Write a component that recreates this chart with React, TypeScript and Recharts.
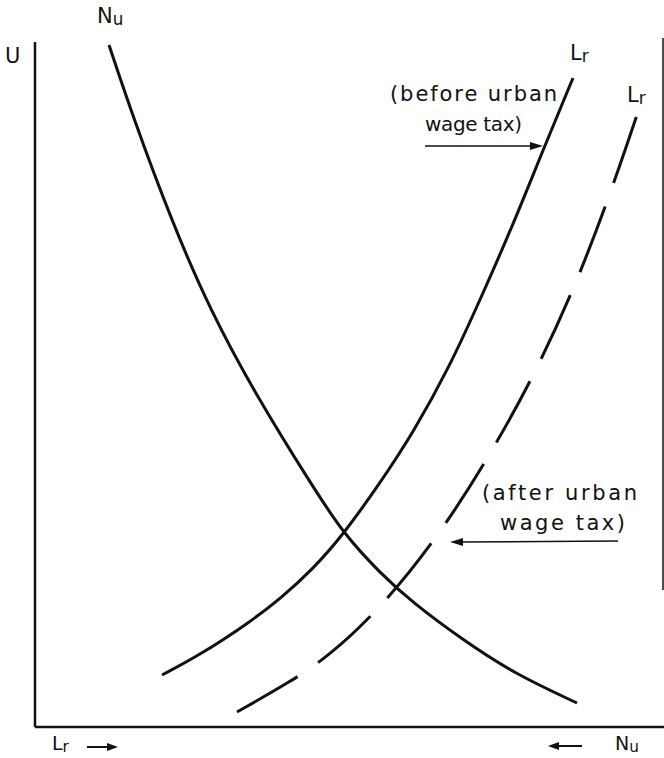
import { LineChart, Line, XAxis, YAxis, ReferenceLine } from "recharts";

// distances measured from the origin (x to the right, U upward)
const nuX = [74, 98, 137, 175, 222, 278, 308, 345, 378, 428, 478, 542];
const nuU = [682, 610, 505, 417, 330, 240, 194, 154, 124, 87, 54, 24];

const lrBeforeX = [127, 165, 215, 245, 278, 308, 345, 378, 415, 445, 478, 508, 538];
const lrBeforeU = [52, 72, 105, 128, 158, 192, 244, 294, 361, 427, 502, 577, 649];

const lrAfterX = [202, 255, 293, 348, 408, 458, 502, 542, 576, 603];
const lrAfterU = [15, 45, 70, 121, 197, 277, 357, 445, 535, 615];

const toPoints = (xs: number[], us: number[]) => xs.map((x, i) => ({ x, u: us[i] }));

const nuData = toPoints(nuX, nuU);
const lrBeforeData = toPoints(lrBeforeX, lrBeforeU);
const lrAfterData = toPoints(lrAfterX, lrAfterU);

const INK = "#111";
const FONT = "'DejaVu Sans', sans-serif";

function Sub({ x, y, main, sub, size = 21 }: { x: number; y: number; main: string; sub: string; size?: number }) {
  return (
    <text x={x} y={y} fontFamily={FONT} fontSize={size} fill={INK}>
      {main}
      <tspan fontSize={size * 0.8} dy={2}>{sub}</tspan>
    </text>
  );
}

function Annotations() {
  return (
    <svg width={664} height={758} style={{ position: "absolute", left: 0, top: 0, pointerEvents: "none" }}>
      <text x={5} y={63} fontFamily={FONT} fontSize={21} fill={INK}>U</text>
      <Sub x={97} y={23} main="N" sub="u" />
      <Sub x={570} y={60} main="L" sub="r" />
      <Sub x={627} y={102} main="L" sub="r" />

      <text x={390} y={101} fontFamily={FONT} fontSize={21} fill={INK} textLength={167} lengthAdjust="spacing">(before urban</text>
      <text x={425} y={131} fontFamily={FONT} fontSize={20} fill={INK} textLength={97} lengthAdjust="spacing">wage tax)</text>
      <line x1={425} y1={146} x2={535} y2={146} stroke={INK} strokeWidth={1.5} />
      <polygon points="543,146 530,142 530,150" fill={INK} />

      <text x={482} y={500} fontFamily={FONT} fontSize={21} fill={INK} textLength={155} lengthAdjust="spacing">(after urban</text>
      <text x={500} y={530} fontFamily={FONT} fontSize={21} fill={INK} textLength={125} lengthAdjust="spacing">wage tax)</text>
      <line x1={458} y1={542} x2={618} y2={541} stroke={INK} strokeWidth={1.5} />
      <polygon points="450,542 463,538 463,546" fill={INK} />

      <Sub x={52} y={750} main="L" sub="r" size={19} />
      <line x1={87} y1={747} x2={110} y2={747} stroke={INK} strokeWidth={2} />
      <polygon points="118,747 107,743 107,751" fill={INK} />

      <line x1={556} y1={746} x2={582} y2={746} stroke={INK} strokeWidth={2} />
      <polygon points="548,746 559,742 559,750" fill={INK} />
      <Sub x={615} y={750} main="N" sub="u" size={19} />
    </svg>
  );
}

export default function App() {
  return (
    <div style={{ position: "absolute", left: 0, top: 0, width: 664, height: 758, background: "#fff" }}>
      <LineChart width={664} height={758} margin={{ top: 42, right: 1, bottom: 31, left: 35 }}>
        <XAxis dataKey="x" type="number" domain={[0, 628]} hide allowDataOverflow />
        <YAxis dataKey="u" type="number" domain={[0, 685]} hide allowDataOverflow />
        <ReferenceLine x={0} stroke={INK} strokeWidth={2.5} ifOverflow="visible" />
        <ReferenceLine
          segment={[{ x: 0, y: 0 }, { x: 629, y: 0 }]}
          stroke={INK}
          strokeWidth={2.5}
          ifOverflow="visible"
        />
        <ReferenceLine
          segment={[{ x: 628, y: 137 }, { x: 628, y: 689 }]}
          stroke={INK}
          strokeWidth={1.5}
          ifOverflow="visible"
        />
        <Line data={nuData} dataKey="u" type="basis" stroke={INK} strokeWidth={3} dot={false} isAnimationActive={false} />
        <Line data={lrBeforeData} dataKey="u" type="basis" stroke={INK} strokeWidth={3} dot={false} isAnimationActive={false} />
        <Line
          data={lrAfterData}
          dataKey="u"
          type="basis"
          stroke={INK}
          strokeWidth={3}
          strokeDasharray="70 25"
          dot={false}
          isAnimationActive={false}
        />
      </LineChart>
      <Annotations />
    </div>
  );
}
